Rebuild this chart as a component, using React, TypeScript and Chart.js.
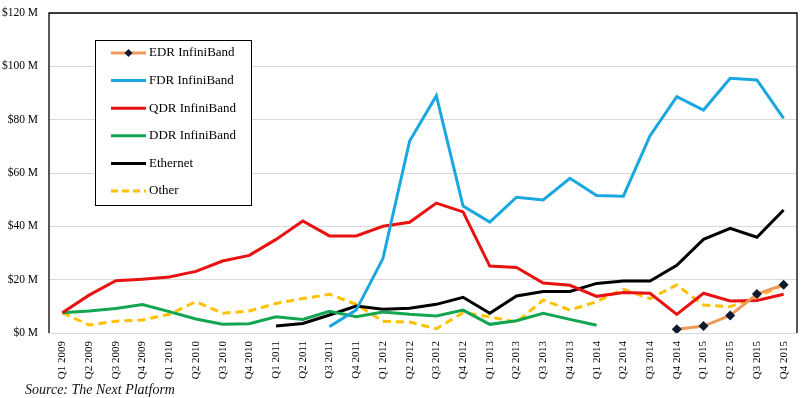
import React, { useEffect, useRef } from "react";
import Chart from "chart.js/auto";

const quarters: string[] = [
  "Q1 2009", "Q2 2009", "Q3 2009", "Q4 2009",
  "Q1 2010", "Q2 2010", "Q3 2010", "Q4 2010",
  "Q1 2011", "Q2 2011", "Q3 2011", "Q4 2011",
  "Q1 2012", "Q2 2012", "Q3 2012", "Q4 2012",
  "Q1 2013", "Q2 2013", "Q3 2013", "Q4 2013",
  "Q1 2014", "Q2 2014", "Q3 2014", "Q4 2014",
  "Q1 2015", "Q2 2015", "Q3 2015", "Q4 2015",
];

const N = null;
const edr: (number | null)[] = [N, N, N, N, N, N, N, N, N, N, N, N, N, N, N, N, N, N, N, N, N, N, N, 1.4, 2.6, 6.6, 14.6, 18.1];
const fdr: (number | null)[] = [N, N, N, N, N, N, N, N, N, N, 2.4, 8.6, 27.9, 72, 89, 47.6, 41.6, 50.9, 49.9, 58, 51.6, 51.3, 74, 88.6, 83.6, 95.5, 94.9, 80.5];
const qdr: (number | null)[] = [7.6, 14.2, 19.6, 20.2, 21, 23.1, 27, 29.1, 35.1, 42, 36.4, 36.4, 40, 41.5, 48.7, 45.4, 25.1, 24.6, 18.75, 17.9, 13.75, 15.2, 14.9, 7, 14.9, 12, 12.2, 14.5];
const ddr: (number | null)[] = [7.6, 8.25, 9.2, 10.7, 8, 5.25, 3.25, 3.5, 6.1, 5.1, 8.1, 6.1, 7.9, 7, 6.4, 8.6, 3.25, 4.6, 7.4, 5.1, 2.9, N, N, N, N, N, N, N];
const ethernet: (number | null)[] = [N, N, N, N, N, N, N, N, 2.6, 3.6, 6.75, 10.1, 8.9, 9.25, 10.75, 13.4, 7.4, 13.9, 15.6, 15.6, 18.6, 19.5, 19.5, 25.4, 35.1, 39.25, 35.9, 46.1];
const other: (number | null)[] = [7.6, 3, 4.4, 4.9, 7, 11.75, 7.4, 8.25, 11.1, 12.9, 14.5, 10.75, 4.4, 4.1, 1.6, 7.6, 6.1, 4, 12.4, 8.6, 11.75, 16.4, 12.9, 18, 10.5, 9.9, 13.6, 18];

const yTicks: number[] = [0, 20, 40, 60, 80, 100, 120];
const sourceText = "Source: The Next Platform";

const seriesNames = ["EDR InfiniBand", "FDR InfiniBand", "QDR InfiniBand", "DDR InfiniBand", "Ethernet", "Other"];
const seriesColors = ["#F0995A", "#1AA7DF", "#E81212", "#12A650", "#000000", "#FFC000"];

const SERIF = "'Liberation Serif', 'DejaVu Serif', serif";

export default function App() {
  const ref = useRef<HTMLCanvasElement | null>(null);

  useEffect(() => {
    if (!ref.current) return;
    const data = [edr, fdr, qdr, ddr, ethernet, other];

    const framePlugin = {
      id: "frame",
      afterDatasetsDraw(chart: any) {
        const { ctx, chartArea } = chart;
        const { left, top, right, bottom } = chartArea;
        ctx.save();
        ctx.strokeStyle = "#000";
        ctx.lineWidth = 1.3;
        ctx.beginPath();
        ctx.moveTo(left, bottom);
        ctx.lineTo(left, top);
        ctx.lineTo(right, top);
        ctx.lineTo(right, bottom);
        ctx.stroke();
        ctx.restore();
      },
      afterDraw(chart: any) {
        const { ctx } = chart;
        ctx.save();
        // legend box
        const bx = 95, by = 40, bw = 156, bh = 165;
        ctx.fillStyle = "#fff";
        ctx.fillRect(bx, by, bw, bh);
        ctx.strokeStyle = "#000";
        ctx.lineWidth = 1;
        ctx.strokeRect(bx + 0.5, by + 0.5, bw, bh);
        chart.data.datasets.forEach((ds: any, i: number) => {
          const y = 53 + i * 27.6;
          ctx.strokeStyle = ds.borderColor;
          ctx.lineWidth = 3;
          ctx.setLineDash(ds.borderDash && ds.borderDash.length ? [7, 4] : []);
          ctx.beginPath();
          ctx.moveTo(111, y);
          ctx.lineTo(146, y);
          ctx.stroke();
          ctx.setLineDash([]);
          if (ds.pointStyle === "rectRot") {
            ctx.fillStyle = "#0d1a30";
            ctx.beginPath();
            ctx.moveTo(128.5, y - 4);
            ctx.lineTo(132.5, y);
            ctx.lineTo(128.5, y + 4);
            ctx.lineTo(124.5, y);
            ctx.closePath();
            ctx.fill();
          }
          ctx.fillStyle = "#000";
          ctx.font = `13px ${SERIF}`;
          ctx.textBaseline = "middle";
          ctx.textAlign = "left";
          ctx.fillText(ds.label, 149, y);
        });
        // source
        ctx.font = `italic 14px ${SERIF}`;
        ctx.fillStyle = "#111";
        ctx.textBaseline = "middle";
        ctx.fillText(sourceText, 25, 390);
        ctx.restore();
      },
    };

    const chart = new Chart(ref.current, {
      type: "line",
      data: {
        labels: quarters,
        datasets: seriesNames.map((name, i) => ({
          label: name,
          data: data[i],
          borderColor: seriesColors[i],
          backgroundColor: seriesColors[i],
          borderWidth: 3,
          borderDash: name === "Other" ? [8, 5] : [],
          pointRadius: name === "EDR InfiniBand" ? 5 : 0,
          pointStyle: name === "EDR InfiniBand" ? "rectRot" : "circle",
          pointBackgroundColor: "#0d1a30",
          pointBorderColor: "#0d1a30",
          pointBorderWidth: 0,
          tension: 0,
          spanGaps: false,
          fill: false,
        })),
      },
      options: {
        animation: false,
        responsive: true,
        maintainAspectRatio: false,
        layout: { padding: { left: 0, top: 13, right: 4, bottom: 0 } },
        plugins: {
          legend: { display: false },
          tooltip: { enabled: false },
        },
        scales: {
          x: {
            offset: true,
            grid: { display: false, drawTicks: false },
            border: { display: false },
            ticks: {
              autoSkip: false,
              maxRotation: 90,
              minRotation: 90,
              padding: 8,
              color: "#000",
              font: { family: SERIF, size: 11 },
            },
            afterFit(scale: any) {
              scale.height = 65;
              scale.paddingLeft = 0;
              scale.paddingRight = 0;
              scale.paddingTop = 0;
              scale.paddingBottom = 0;
            },
          },
          y: {
            min: 0,
            max: 120,
            afterBuildTicks(scale: any) {
              scale.ticks = yTicks.map((v) => ({ value: v }));
            },
            grid: { color: "#d9d9d9", lineWidth: 1, drawTicks: false },
            border: { display: false },
            ticks: {
              padding: 11,
              color: "#000",
              font: { family: SERIF, size: 11.5 },
              callback: (v: any) => `$${v} M`,
            },
            afterFit(scale: any) {
              scale.width = 49;
              scale.paddingLeft = 0;
              scale.paddingRight = 0;
              scale.paddingTop = 0;
              scale.paddingBottom = 0;
            },
          },
        },
      },
      plugins: [framePlugin],
    });
    return () => chart.destroy();
  }, []);

  return (
    <div style={{ position: "fixed", left: 0, top: 0, width: 802, height: 398, background: "#fff" }}>
      <canvas ref={ref} />
    </div>
  );
}
